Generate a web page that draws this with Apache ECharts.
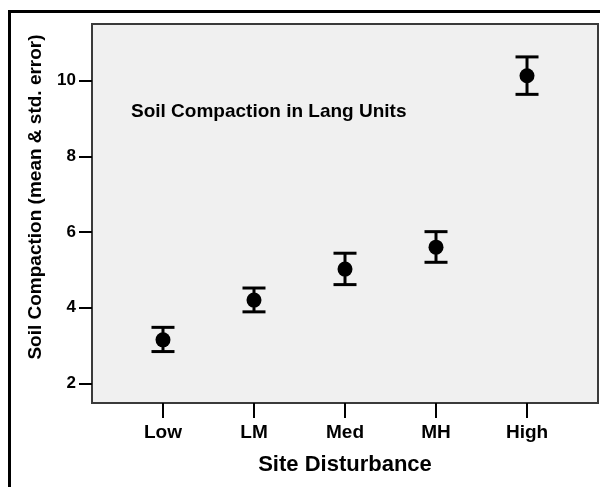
<!DOCTYPE html>
<html>
<head>
<meta charset="utf-8">
<script src="https://cdn.jsdelivr.net/npm/echarts@6/dist/echarts.min.js"></script>
<style>html,body{margin:0;padding:0;background:#fff}#c{width:600px;height:487px}</style>
</head>
<body>
<div id="c"></div>
<script>
const categories = ['Low', 'LM', 'Med', 'MH', 'High'];
const means = [3.15, 4.20, 5.02, 5.60, 10.13];
const lower = [2.84, 3.89, 4.61, 5.20, 9.64];
const upper = [3.48, 4.52, 5.44, 6.01, 10.63];
const yTicks = [2, 4, 6, 8, 10];

const FONT = 'Liberation Sans, Arial, sans-serif';
const chart = echarts.init(document.getElementById('c'));
const xIdx = categories.map((c, i) => i);

chart.setOption({
  animation: false,
  grid: {
    left: 92, top: 24, right: 2, bottom: 84,
    show: true, backgroundColor: '#f0f0f0', borderColor: '#3a3a3a', borderWidth: 2
  },
  xAxis: {
    type: 'value', min: -0.78, max: 4.78,
    splitLine: { show: false },
    axisLine: { show: false, onZero: false },
    axisTick: { show: true, customValues: xIdx, length: 15, lineStyle: { color: '#000', width: 2 } },
    axisLabel: {
      customValues: xIdx, margin: 20,
      formatter: v => categories[Math.round(v)] || '',
      color: '#000', fontWeight: 'bold', fontSize: 19, fontFamily: FONT
    }
  },
  yAxis: {
    type: 'value', min: 1.48, max: 11.5,
    splitLine: { show: false },
    axisLine: { show: false, onZero: false },
    axisTick: { show: true, customValues: yTicks, length: 13, lineStyle: { color: '#000', width: 2 } },
    axisLabel: {
      customValues: yTicks, margin: 16,
      color: '#000', fontWeight: 'bold', fontSize: 17, fontFamily: FONT
    }
  },
  graphic: [
    { type: 'rect', shape: { x: 9.5, y: 11.5, width: 700, height: 600 }, style: { fill: 'none', stroke: '#000', lineWidth: 3 }, z: 100 },
    { type: 'text', x: 131, y: 112, style: { text: 'Soil Compaction in Lang Units', font: 'bold 19px ' + FONT, fill: '#000', textVerticalAlign: 'middle', textAlign: 'left' }, z: 100 },
    { type: 'text', x: 36, y: 197, rotation: Math.PI / 2, style: { text: 'Soil Compaction (mean & std. error)', font: 'bold 19px ' + FONT, fill: '#000', textVerticalAlign: 'middle', textAlign: 'center' }, z: 100 },
    { type: 'text', x: 345, y: 465, style: { text: 'Site Disturbance', font: 'bold 22px ' + FONT, fill: '#000', textVerticalAlign: 'middle', textAlign: 'center' }, z: 100 }
  ],
  series: [
    {
      type: 'custom',
      data: xIdx.map(i => [i, lower[i], upper[i]]),
      renderItem: (params, api) => {
        const lo = api.coord([api.value(0), api.value(1)]);
        const hi = api.coord([api.value(0), api.value(2)]);
        const w = 11.5;
        const st = { stroke: '#000', lineWidth: 3 };
        return {
          type: 'group',
          children: [
            { type: 'line', shape: { x1: lo[0], y1: lo[1], x2: hi[0], y2: hi[1] }, style: st },
            { type: 'line', shape: { x1: lo[0] - w, y1: lo[1], x2: lo[0] + w, y2: lo[1] }, style: st },
            { type: 'line', shape: { x1: hi[0] - w, y1: hi[1], x2: hi[0] + w, y2: hi[1] }, style: st }
          ]
        };
      },
      z: 2
    },
    {
      type: 'scatter',
      data: xIdx.map(i => [i, means[i]]),
      symbol: 'circle', symbolSize: 15,
      itemStyle: { color: '#000', opacity: 1 },
      z: 3
    }
  ]
});
</script>
</body>
</html>
